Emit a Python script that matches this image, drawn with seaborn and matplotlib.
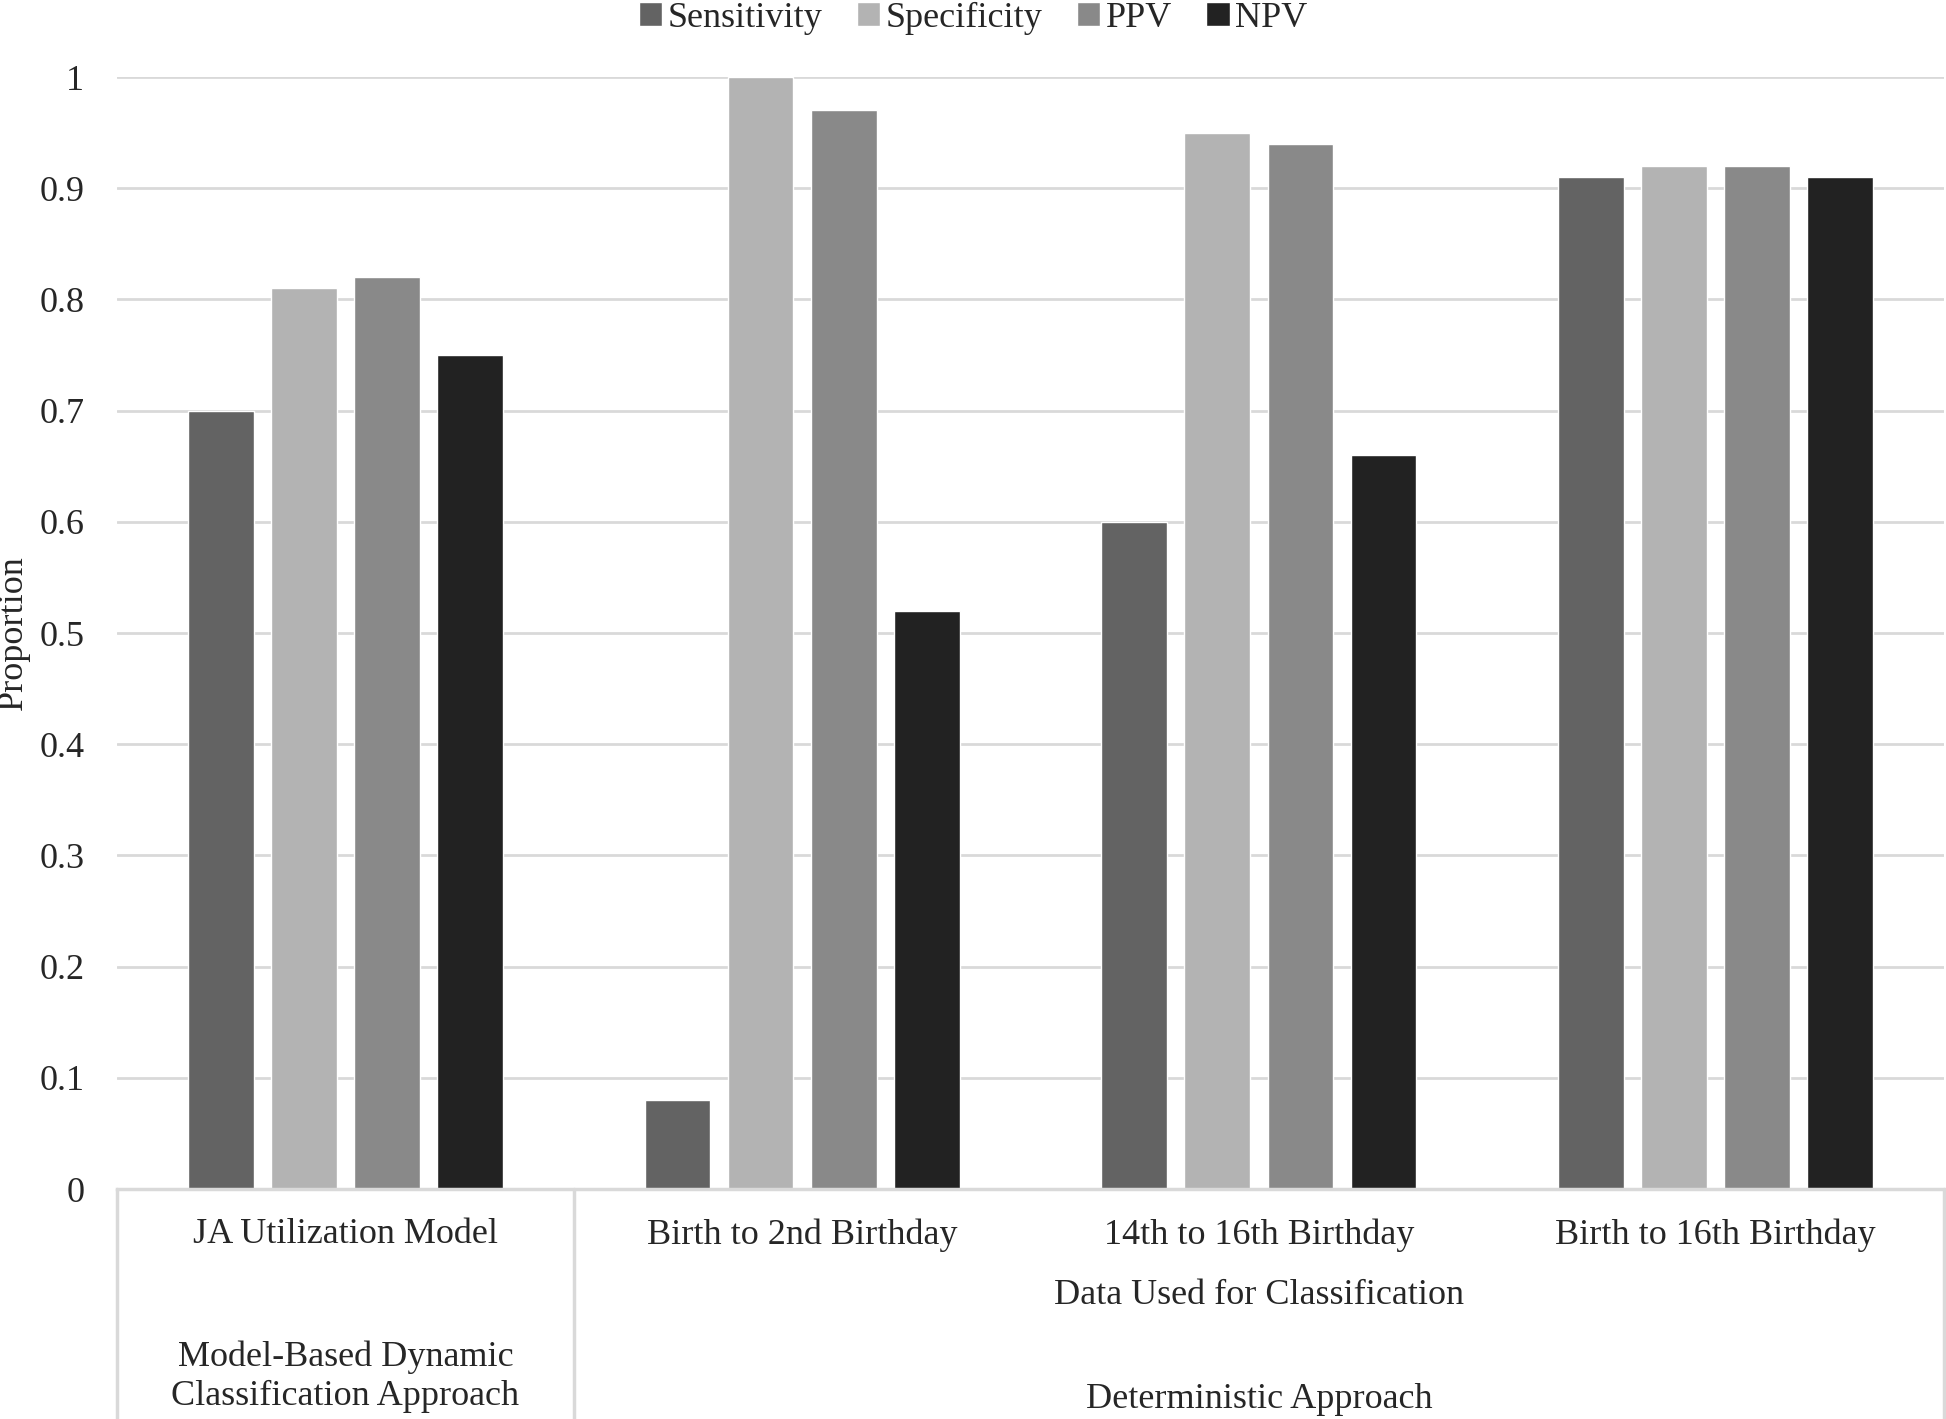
import pandas as pd
import matplotlib.pyplot as plt
import seaborn as sns

# datos
categories = ["JA Utilization Model", "Birth to 2nd Birthday",
              "14th to 16th Birthday", "Birth to 16th Birthday"]
metrics = ["Sensitivity", "Specificity", "PPV", "NPV"]
sensitivity = [0.70, 0.08, 0.60, 0.91]
specificity = [0.81, 1.00, 0.95, 0.92]
ppv = [0.82, 0.97, 0.94, 0.92]
npv = [0.75, 0.52, 0.66, 0.91]
yticks = [0, 0.1, 0.2, 0.3, 0.4, 0.5, 0.6, 0.7, 0.8, 0.9, 1]
ytick_labels = ["0", "0.1", "0.2", "0.3", "0.4", "0.5", "0.6", "0.7", "0.8", "0.9", "1"]

colors = ["#636363", "#b3b3b3", "#898989", "#222222"]

df = pd.DataFrame({
    "category": categories * 4,
    "metric": [m for m in metrics for _ in categories],
    "value": sensitivity + specificity + ppv + npv,
})

sns.set_style("white")
plt.rcParams["font.family"] = ["Liberation Serif", "DejaVu Serif"]

fig = plt.figure(figsize=(19.46, 14.19), dpi=100)
ax = fig.add_axes([117 / 1946, 1 - 1189 / 1419, (1944 - 117) / 1946, (1189 - 77) / 1419])

sns.barplot(data=df, x="category", y="value", hue="metric", order=categories,
            hue_order=metrics, palette=colors, width=0.728, gap=0.21,
            saturation=1, ax=ax)

ax.set_ylim(0, 1)
ax.set_xlim(-0.5, 3.5)
ax.set_yticks(yticks)
ax.set_yticklabels(ytick_labels)
ax.yaxis.grid(True, color="#d9d9d9", linewidth=2)
ax.set_axisbelow(True)
for s in ["top", "right", "left"]:
    ax.spines[s].set_visible(False)
ax.spines["bottom"].set_color("#d9d9d9")
ax.spines["bottom"].set_linewidth(2.5)
ax.tick_params(axis="both", length=0, labelsize=26)
ax.tick_params(axis="y", pad=23.5)
ax.tick_params(axis="x", pad=21)
ax.set_xlabel("")
ax.set_ylabel("Proportion", fontsize=26)
ax.yaxis.set_label_coords(-0.0476, 0.5)

# lineas del eje de categorias multinivel
bottom = -(1419 - 1189) / (1189 - 77)
for xv in [-0.5, 0.5, 3.5]:
    ax.plot([xv, xv], [0, bottom], transform=ax.get_xaxis_transform(),
            color="#d9d9d9", linewidth=2.5, clip_on=False)

tr = ax.get_xaxis_transform()
ax.text(2, -106 / 1112, "Data Used for Classification", transform=tr,
        ha="center", va="center", fontsize=26)
ax.text(0, -188 / 1112, "Model-Based Dynamic\nClassification Approach", transform=tr,
        ha="center", va="center", fontsize=26, linespacing=1.25)
ax.text(2, -210 / 1112, "Deterministic Approach", transform=tr,
        ha="center", va="center", fontsize=26)

handles, labels = ax.get_legend_handles_labels()
ax.get_legend().remove()
fig.legend(handles, labels, loc="center", bbox_to_anchor=(0.5, 1 - 18 / 1419),
           ncol=4, frameon=False, fontsize=26, handlelength=0.65, handleheight=0.65,
           handletextpad=0.15, columnspacing=0.95, borderpad=0, borderaxespad=0)

plt.savefig("out.png", dpi=100)
